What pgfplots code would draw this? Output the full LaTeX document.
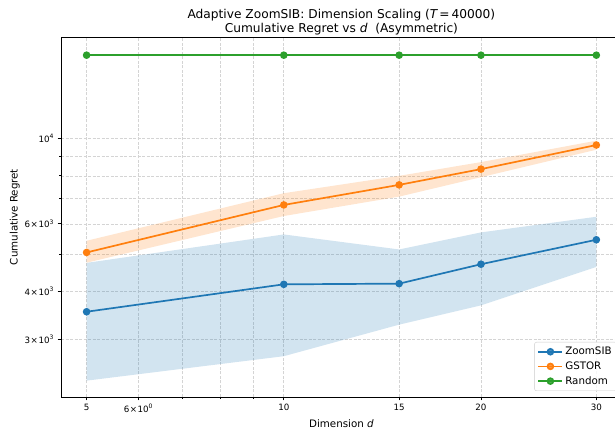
\documentclass[border=0pt]{standalone}
\usepackage{fontspec}
\setmainfont{DejaVu Sans}
\usepackage{pgfplots}
\usepackage{pgfplotstable}
\pgfplotsset{compat=1.18}
\usepgfplotslibrary{fillbetween}

\definecolor{tabblue}{HTML}{1F77B4}
\definecolor{taborange}{HTML}{FF7F0E}
\definecolor{tabgreen}{HTML}{2CA02C}
\definecolor{gridgray}{HTML}{D4D4D4}

% d, mean, band low, band high
\pgfplotstableread{
d mean lo hi
5 3543 2344 4749
10 4176 2714 5632
15 4193 3279 5147
20 4711 3681 5701
30 5455 4636 6262
}\zoomsib
\pgfplotstableread{
d mean lo hi
5 5055 4754 5422
10 6722 6290 7212
15 7582 7066 8003
20 8332 7940 8691
30 9627 9360 9881
}\gstor
\pgfplotstableread{
d mean
5 16500
10 16500
15 16500
20 16500
30 16500
}\random

\newcommand{\sci}[2]{#1\kern0.5pt×\kern0.5pt10\textsuperscript{#2}}

\begin{document}
\begin{tikzpicture}
\begin{axis}[
    scale only axis,
    width=560.8pt, height=360pt,
    xmode=log, ymode=log,
    xmin=4.57, xmax=32.81,
    ymin=2125, ymax=18400,
    xtick={5,6,10,15,20,30},
    xticklabels={5,\sci{6}{0},10,15,20,30},
    minor xtick={7,8,9},
    ytick={3000,4000,6000,10000},
    yticklabels={\sci{3}{3},\sci{4}{3},\sci{6}{3},10\textsuperscript{4}},
    minor ytick={5000,7000,8000,9000},
    xtick pos=bottom, ytick pos=left,
    tick align=outside,
    major tick length=3.5pt, minor tick length=2pt,
    every tick/.style={black, line width=0.8pt},
    ticklabel style={font=\fontsize{8.7}{10}\selectfont},
    axis line style={black, line width=0.8pt},
    grid=both,
    major grid style={gridgray, line width=0.7pt, dash pattern=on 3pt off 1.5pt},
    minor grid style={gridgray, line width=0.7pt, dash pattern=on 3pt off 1.5pt},
    label style={font=\fontsize{10.3}{12}\selectfont},
    xlabel={Dimension {\itshape d}},
    ylabel={Cumulative Regret},
    ylabel style={xshift=0pt, yshift=-2pt},
    title={Adaptive ZoomSIB: Dimension Scaling ({\itshape T}\,=\,40000)\\Cumulative Regret vs {\itshape d}\ \ (Asymmetric)},
    title style={align=center, font=\fontsize{12.2}{14.6}\selectfont, yshift=-8pt},
    legend style={at={(axis description cs:1,0)}, anchor=south east,
        xshift=-5pt, yshift=6pt,
        font=\fontsize{10.3}{12}\selectfont,
        draw={rgb,255:red,204;green,204;blue,204}, rounded corners=2pt,
        fill=white, fill opacity=0.8, text opacity=1,
        row sep=1.5pt, inner xsep=3pt, inner ysep=3pt},
    legend cell align=left,
    legend image code/.code={
        \draw[#1, mark repeat=2, mark phase=2] plot coordinates {(0pt,0pt) (12pt,0pt) (24pt,0pt)};
    },
]
\coordinate (bl) at (rel axis cs:0,0);
\coordinate (tl) at (rel axis cs:0,1);

% shaded bands
\addplot[forget plot, draw=none, name path=zhi] table[x=d, y=hi] {\zoomsib};
\addplot[forget plot, draw=none, name path=zlo] table[x=d, y=lo] {\zoomsib};
\addplot[forget plot, fill=tabblue, fill opacity=0.2, draw=none] fill between[of=zhi and zlo];
\addplot[forget plot, draw=none, name path=ghi] table[x=d, y=hi] {\gstor};
\addplot[forget plot, draw=none, name path=glo] table[x=d, y=lo] {\gstor};
\addplot[forget plot, fill=taborange, fill opacity=0.2, draw=none] fill between[of=ghi and glo];

\addplot[tabblue, line width=1.7pt, mark=*, mark size=2.9pt]
    table[x=d, y=mean] {\zoomsib};
\addlegendentry{ZoomSIB}

\addplot[taborange, line width=1.7pt, mark=*, mark size=2.9pt]
    table[x=d, y=mean] {\gstor};
\addlegendentry{GSTOR}

\addplot[tabgreen, line width=1.7pt, mark=*, mark size=2.9pt]
    table[x=d, y=mean] {\random};
\addlegendentry{Random}
\end{axis}
\pgfresetboundingbox
\useasboundingbox ([xshift=-61pt,yshift=-33pt]bl) rectangle ([xshift=554pt,yshift=37pt]tl);
\end{tikzpicture}
\end{document}
